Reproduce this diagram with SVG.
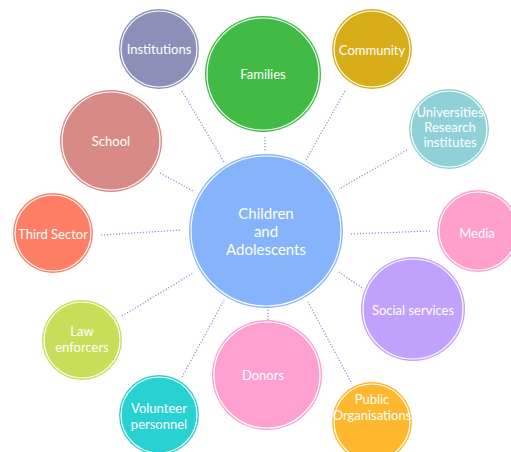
<svg xmlns="http://www.w3.org/2000/svg" width="511" height="452" viewBox="0 0 511 452">
<style>
.ring{fill:none;stroke:#fff;stroke-width:1.2}
.t{font-family:Lato,"Open Sans","Liberation Sans",sans-serif;font-size:13px;fill:#fff;text-anchor:middle}
.c{font-size:15px}
.ln{stroke:#8a8ad6;stroke-width:1.2;stroke-dasharray:1.2 1.8;fill:none}
</style>
<rect width="511" height="452" fill="#fff"/>
<g id="connectors">
<line class="ln" x1="182" y1="91" x2="224" y2="162"/>
<line class="ln" x1="265" y1="137" x2="265" y2="152"/>
<line class="ln" x1="345" y1="91" x2="306" y2="160"/>
<line class="ln" x1="407" y1="150" x2="339" y2="189"/>
<line class="ln" x1="160" y1="173" x2="193" y2="191"/>
<line class="ln" x1="101" y1="235" x2="182" y2="230"/>
<line class="ln" x1="430" y1="231" x2="350" y2="234"/>
<line class="ln" x1="122" y1="316" x2="193" y2="273"/>
<line class="ln" x1="362" y1="288" x2="339" y2="272"/>
<line class="ln" x1="182" y1="377" x2="224" y2="300"/>
<line class="ln" x1="268" y1="320" x2="268" y2="306"/>
<line class="ln" x1="351" y1="382" x2="308" y2="302"/>
</g>
<g id="center">
<circle cx="266" cy="231" r="77" fill="#86b4fc"/>
<circle class="ring" cx="266" cy="231" r="75"/>
<text class="t c" x="266" y="219">Children</text>
<text class="t c" x="266" y="237">and</text>
<text class="t c" x="266" y="255">Adolescents</text>
</g>
<g id="families">
<circle cx="263" cy="74" r="58" fill="#42bb46"/>
<circle class="ring" cx="263" cy="74" r="56"/>
<text class="t" x="263" y="79">Families</text>
</g>
<g id="institutions">
<circle cx="159" cy="49" r="40" fill="#8e8fb9"/>
<circle class="ring" cx="159" cy="49" r="38"/>
<text class="t" x="159" y="54">Institutions</text>
</g>
<g id="community">
<circle cx="372" cy="49" r="40" fill="#d8ad1a"/>
<circle class="ring" cx="372" cy="49" r="38"/>
<text class="t" x="372" y="55">Community</text>
</g>
<g id="universities">
<circle cx="449" cy="129" r="40" fill="#8fd1d6"/>
<circle class="ring" cx="449" cy="129" r="38"/>
<text class="t" x="450" y="117">Universities</text>
<text class="t" x="450" y="132">Research</text>
<text class="t" x="450" y="147">institutes</text>
</g>
<g id="school">
<circle cx="111" cy="141" r="51" fill="#d78a86"/>
<circle class="ring" cx="111" cy="141" r="49"/>
<text class="t" x="111" y="146">School</text>
</g>
<g id="third-sector">
<circle cx="53" cy="233" r="40" fill="#ff7f66"/>
<circle class="ring" cx="53" cy="233" r="38"/>
<text class="t" x="53" y="239">Third Sector</text>
</g>
<g id="media">
<circle cx="478" cy="231" r="41" fill="#ffa0cb"/>
<circle class="ring" cx="478" cy="231" r="39"/>
<text class="t" x="477" y="238">Media</text>
</g>
<g id="social-services">
<circle cx="413" cy="309" r="52" fill="#c0a2fc"/>
<circle class="ring" cx="413" cy="309" r="50"/>
<text class="t" x="413" y="315">Social services</text>
</g>
<g id="law-enforcers">
<circle cx="82" cy="340" r="40" fill="#c9de58"/>
<circle class="ring" cx="82" cy="340" r="38"/>
<text class="t" x="82" y="336">Law</text>
<text class="t" x="82" y="352">enforcers</text>
</g>
<g id="volunteer">
<circle cx="159" cy="415" r="40" fill="#29d2d2"/>
<circle class="ring" cx="159" cy="415" r="38"/>
<text class="t" x="159" y="413">Volunteer</text>
<text class="t" x="159" y="429">personnel</text>
</g>
<g id="donors">
<circle cx="267" cy="375" r="55" fill="#ffa1d0"/>
<circle class="ring" cx="267" cy="375" r="53"/>
<text class="t" x="263" y="380">Donors</text>
</g>
<g id="public-organisations">
<circle cx="372" cy="422" r="40" fill="#ffb72e"/>
<circle class="ring" cx="372" cy="422" r="38"/>
<text class="t" x="372" y="404">Public</text>
<text class="t" x="372" y="420">Organisations</text>
</g>
</svg>
